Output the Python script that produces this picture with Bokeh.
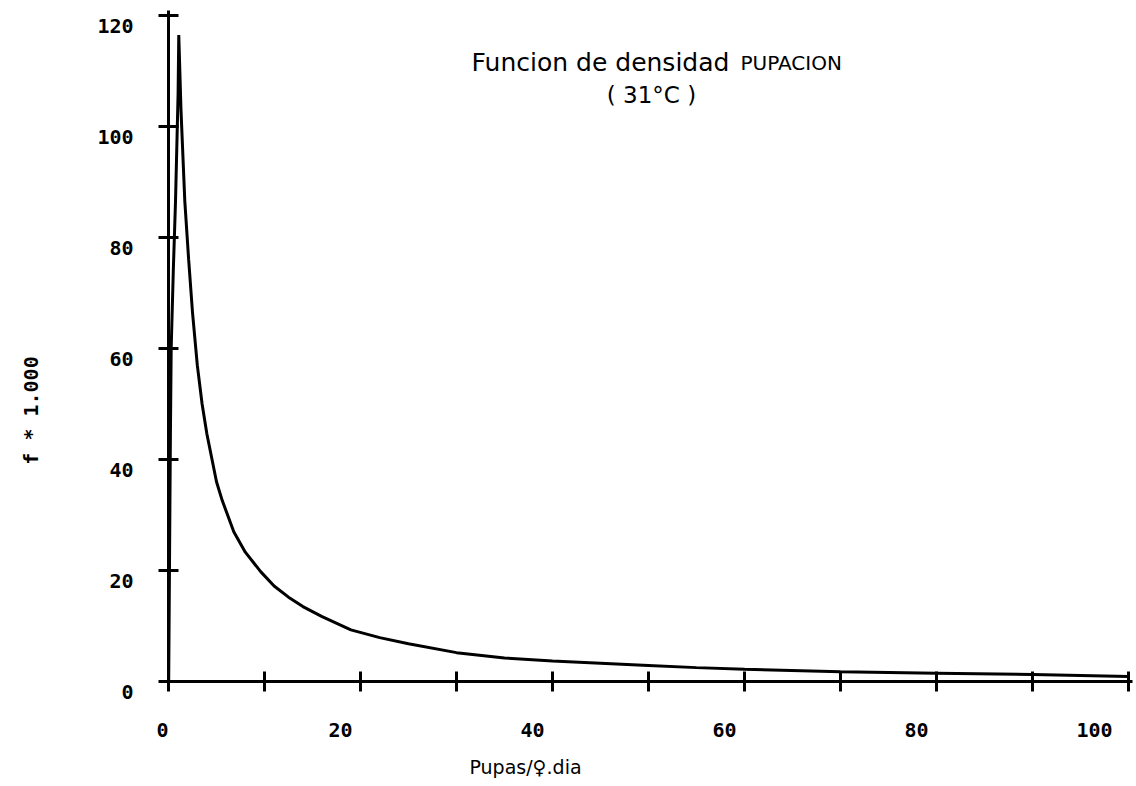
import math
from bokeh.plotting import figure
from bokeh.models import Range1d, FixedTicker, Label, LabelSet, ColumnDataSource
from bokeh.core.properties import value
from bokeh.embed import file_html
from bokeh.resources import INLINE

# ---- data ----
pupas = [0.02, 0.12, 0.2, 0.28, 0.5, 0.73, 1.0, 1.07, 1.3, 1.7, 2.1, 2.5, 3.0, 3.5,
         4.0, 5.0, 5.6, 6.8, 8.0, 9.6, 11, 12.5, 14, 16, 19, 22, 25, 30, 35, 40,
         45, 50, 55, 60, 70, 80, 90, 100]
f_1000 = [0, 25, 44.6, 60, 74, 86.5, 106, 116.5, 103, 86.5, 76, 66.5, 57, 50,
          44.6, 36, 32.6, 27.0, 23.3, 19.8, 17.2, 15.2, 13.5, 11.7, 9.3, 7.9, 6.8, 5.2, 4.25, 3.7,
          3.3, 2.9, 2.5, 2.2, 1.75, 1.5, 1.25, 0.9]

x_ticks = [0, 10, 20, 30, 40, 50, 60, 70, 80, 90, 100]
x_label_vals = [0, 20, 40, 60, 80, 100]
x_label_text = ["0", "20", "40", "60", "80", "100"]
y_ticks = [0, 20, 40, 60, 80, 100, 120]
y_label_text = ["0", "20", "40", "60", "80", "100", "120"]

title_a = "Funcion de densidad"
title_b = "PUPACION"
title_2 = "( 31°C )"
x_title = "Pupas/♀.dia"
y_title = "f * 1.000"

# ---- figure (frame covers the whole canvas; axes fixed at 0) ----
PX_X = 9.6     # pixels per x unit
PX_Y = 5.55    # pixels per y unit
X0, Y0 = 168, 681  # pixel position of the origin
W, H = 1136, 786

p = figure(width=W, height=H,
           x_range=Range1d(-X0 / PX_X, (W - X0) / PX_X),
           y_range=Range1d(-(H - Y0) / PX_Y, Y0 / PX_Y),
           output_backend="svg", toolbar_location=None, min_border=0)
p.xgrid.visible = False
p.ygrid.visible = False
p.outline_line_color = None
p.background_fill_color = "white"
p.border_fill_color = "white"

for ax, ticks, bnds in ((p.xaxis[0], x_ticks, (0, 100.4)), (p.yaxis[0], y_ticks, (0, 120.9))):
    ax.fixed_location = 0
    ax.bounds = bnds
    ax.ticker = FixedTicker(ticks=ticks)
    ax.axis_line_width = 3
    ax.axis_line_color = "black"
    ax.major_tick_line_width = 3
    ax.major_tick_line_color = "black"
    ax.major_tick_in = 10
    ax.major_tick_out = 10
    ax.minor_tick_line_color = None
    ax.major_label_overrides = {t: "" for t in ticks}

p.line(pupas, f_1000, line_width=3, line_color="black")

mono = value("DejaVu Sans Mono")

ysrc = ColumnDataSource(dict(x=[0] * len(y_ticks), y=y_ticks, t=y_label_text))
p.add_layout(LabelSet(x="x", y="y", text="t", source=ysrc,
                      x_offset=-35, y_offset=-3,
                      text_align="right", text_baseline="top",
                      text_font=mono, text_font_style="bold",
                      text_font_size=value("20px"), text_color="black"))

xsrc = ColumnDataSource(dict(x=x_label_vals, y=[0] * len(x_label_vals), t=x_label_text,
                             xo=[-8 * (len(t) - 1) for t in x_label_text]))
p.add_layout(LabelSet(x="x", y="y", text="t", source=xsrc,
                      x_offset="xo", y_offset=-41,
                      text_align="right", text_baseline="top",
                      text_font=mono, text_font_style="bold",
                      text_font_size=value("20px"), text_color="black"))

p.add_layout(Label(x=(600 - X0) / PX_X, y=(Y0 - 62) / PX_Y, text=title_a, text_align="center",
                   text_baseline="middle", text_font="DejaVu Sans",
                   text_font_size="25px", text_color="black"))
p.add_layout(Label(x=(740 - X0) / PX_X, y=(Y0 - 62) / PX_Y, text=title_b, text_align="left",
                   text_baseline="middle", text_font="DejaVu Sans",
                   text_font_size="20px", text_color="black"))
p.add_layout(Label(x=(651 - X0) / PX_X, y=(Y0 - 94) / PX_Y, text=title_2, text_align="center",
                   text_baseline="middle", text_font="DejaVu Sans",
                   text_font_size="23px", text_color="black"))
p.add_layout(Label(x=(525 - X0) / PX_X, y=(Y0 - 766) / PX_Y, text=x_title, text_align="center",
                   text_baseline="middle", text_font="DejaVu Sans",
                   text_font_size="19px", text_color="black"))
p.add_layout(Label(x=(30 - X0) / PX_X, y=(Y0 - 410) / PX_Y, text=y_title, angle=math.pi / 2,
                   text_align="center", text_baseline="middle",
                   text_font="DejaVu Sans Mono", text_font_style="bold",
                   text_font_size="20px", text_color="black"))

open("out.html", "w").write(file_html(p, INLINE))
